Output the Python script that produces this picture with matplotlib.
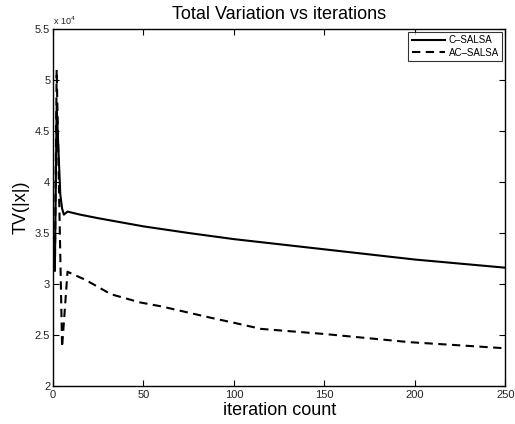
import matplotlib
matplotlib.use("Agg")
import matplotlib.pyplot as plt
from matplotlib.ticker import FuncFormatter

plt.rcParams['font.family'] = ['Liberation Sans', 'DejaVu Sans']

# C-SALSA
c_iter = [1, 2, 4, 5, 6, 8, 15, 25, 50, 75, 100, 125, 150, 175, 200, 225, 250]
c_tv = [3.13e4, 4.74e4, 3.88e4, 3.74e4, 3.68e4, 3.71e4, 3.68e4, 3.645e4, 3.565e4,
        3.50e4, 3.44e4, 3.39e4, 3.34e4, 3.29e4, 3.24e4, 3.20e4, 3.16e4]

# AC-SALSA
ac_iter = [1, 2, 5, 8, 18, 32, 48, 60, 87, 100, 115, 150, 197, 250]
ac_tv = [3.13e4, 5.10e4, 2.38e4, 3.12e4, 3.04e4, 2.90e4, 2.82e4, 2.78e4, 2.67e4,
         2.62e4, 2.56e4, 2.51e4, 2.43e4, 2.37e4]

x_ticks = [0, 50, 100, 150, 200, 250]
y_ticks = [2e4, 2.5e4, 3e4, 3.5e4, 4e4, 4.5e4, 5e4, 5.5e4]

fig = plt.figure(figsize=(5.15, 4.24), dpi=100)
ax = fig.add_axes([0.103, 0.0896, 0.878, 0.842])

ax.plot(c_iter, c_tv, color='black', lw=1.5, label='C\u2013SALSA')
ax.plot(ac_iter, ac_tv, color='black', lw=1.5, dashes=(4, 2.6), label='AC\u2013SALSA')

ax.set_xlim(0, 250)
ax.set_ylim(2e4, 5.5e4)
ax.set_xticks(x_ticks)
ax.set_yticks(y_ticks)
ax.yaxis.set_major_formatter(FuncFormatter(lambda v, p: f'{v / 1e4:g}'))
ax.text(0.0, 1.006, r'x 10$^4$', transform=ax.transAxes, fontsize=6.5,
        ha='left', va='bottom', color='#222222')

ax.tick_params(direction='in', top=True, right=True, labelsize=8, length=4,
               width=0.8, labelcolor='#222222')
ax.tick_params(axis='x', pad=3)
ax.tick_params(axis='y', pad=2)
for s in ax.spines.values():
    s.set_linewidth(1.0)

ax.set_title('Total Variation vs iterations', fontsize=13, pad=7)
ax.set_xlabel('iteration count', fontsize=13, labelpad=1)
ax.set_ylabel('TV(|x|)', fontsize=13, labelpad=4)

leg = ax.legend(loc='upper right', fontsize=7, frameon=True, fancybox=False,
                edgecolor='black', borderaxespad=0.3, handlelength=3.4,
                borderpad=0.35, labelspacing=0.25, handletextpad=0.4)
leg.get_frame().set_linewidth(0.8)

fig.savefig('out.png', dpi=100)
